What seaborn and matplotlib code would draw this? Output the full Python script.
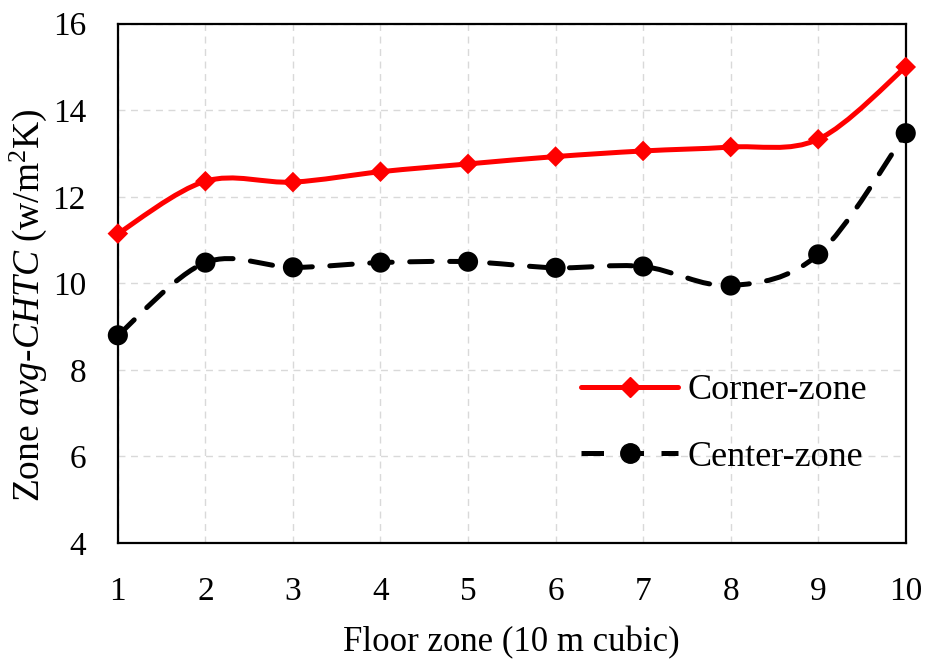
import numpy as np
import pandas as pd
import seaborn as sns
import matplotlib.pyplot as plt
from matplotlib.path import Path
from matplotlib.patches import PathPatch
from matplotlib.lines import Line2D

sns.set_style("white")
plt.rcParams['font.family'] = ['Liberation Serif', 'DejaVu Serif']
plt.rcParams['mathtext.fontset'] = 'custom'
plt.rcParams['mathtext.rm'] = 'Liberation Serif'
plt.rcParams['mathtext.it'] = 'Liberation Serif:italic'
plt.rcParams['text.color'] = 'black'
plt.rcParams['axes.labelcolor'] = 'black'
plt.rcParams['xtick.color'] = 'black'
plt.rcParams['ytick.color'] = 'black'

# data
floor_zone = [1, 2, 3, 4, 5, 6, 7, 8, 9, 10]
corner_zone = [11.15, 12.36, 12.34, 12.58, 12.76, 12.93, 13.06, 13.15, 13.33, 15.0]
center_zone = [8.8, 10.48, 10.37, 10.48, 10.5, 10.36, 10.39, 9.95, 10.67, 13.47]

df = pd.DataFrame({"floor": floor_zone, "Corner-zone": corner_zone,
                   "Center-zone": center_zone})


def smooth_path(xs, ys):
    # Excel-like smoothed line: Catmull-Rom segments drawn as cubic Beziers
    pts = np.column_stack([xs, ys]).astype(float)
    n = len(pts)
    verts = [pts[0]]
    codes = [Path.MOVETO]
    for i in range(n - 1):
        p0 = pts[i - 1] if i > 0 else pts[i]
        p1 = pts[i]
        p2 = pts[i + 1]
        p3 = pts[i + 2] if i + 2 < n else pts[i + 1]
        verts += [p1 + (p2 - p0) / 6, p2 - (p3 - p1) / 6, p2]
        codes += [Path.CURVE4] * 3
    return Path(verts, codes)


fig = plt.figure(figsize=(9.28, 6.59), dpi=100)
ax = fig.add_axes([0.127, 0.176, 0.849, 0.788])

ax.add_patch(PathPatch(smooth_path(df["floor"], df["Corner-zone"]),
                       facecolor="none", edgecolor="#ff0000", lw=3.6,
                       capstyle="round", zorder=3))
ax.add_patch(PathPatch(smooth_path(df["floor"], df["Center-zone"]),
                       facecolor="none", edgecolor="black", lw=3.6,
                       linestyle=(0, (4.5, 3.5)), capstyle="round", zorder=3))

sns.scatterplot(data=df, x="floor", y="Corner-zone", marker="D", s=110,
                color="#ff0000", edgecolor="none", ax=ax, zorder=4, clip_on=False)
sns.scatterplot(data=df, x="floor", y="Center-zone", marker="o", s=210,
                color="black", edgecolor="none", ax=ax, zorder=4, clip_on=False)

ax.set_xlim(1, 10)
ax.set_ylim(4, 16)
ax.set_xticks(floor_zone)
ax.set_yticks([4, 6, 8, 10, 12, 14, 16])
ax.tick_params(axis="x", length=0, pad=24, labelsize=24)
ax.tick_params(axis="y", length=0, pad=23, labelsize=24)

ax.grid(True, color="#d9d9d9", linestyle=(0, (5, 4)), linewidth=1)
for s in ax.spines.values():
    s.set_color("black")
    s.set_linewidth(1.6)

ax.set_xlabel("Floor zone (10 m cubic)", fontsize=25, labelpad=14)
ax.set_ylabel(r"Zone $avg$-$CHTC$ (w/m$^2$K)", fontsize=27, labelpad=3)
ax.yaxis.set_label_coords(-0.088, 0.459)

handles = [
    Line2D([], [], color="#ff0000", lw=3.6, marker="D", markersize=10),
    Line2D([], [], color="black", lw=3.6, linestyle=(0, (4.5, 3.5)),
           marker="o", markersize=14),
]
ax.legend(handles, ["Corner-zone", "Center-zone"], loc="lower right",
          bbox_to_anchor=(0.992, 0.071), frameon=False, fontsize=26,
          handlelength=2.7, labelspacing=0.92, handletextpad=0.25, numpoints=1)

fig.savefig("out.png", dpi=100)
